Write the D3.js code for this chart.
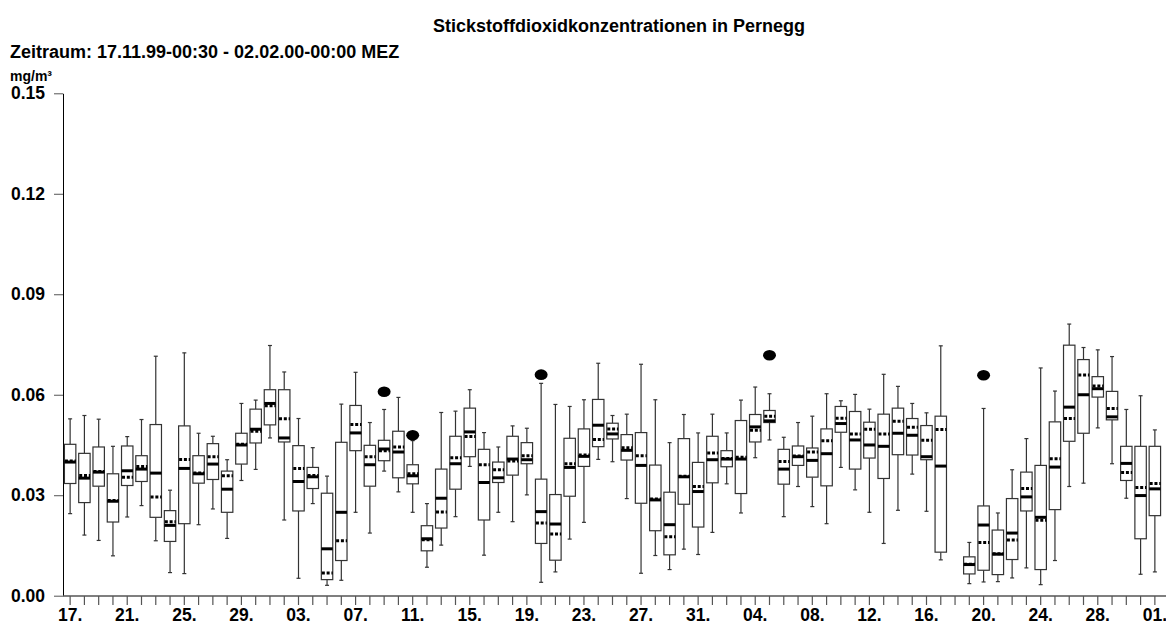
<!DOCTYPE html>
<html>
<head>
<meta charset="utf-8">
<script src="https://cdn.jsdelivr.net/npm/d3@7/dist/d3.min.js"></script>
<style>
  html, body { margin: 0; padding: 0; background: #fff; }
  svg { display: block; font-family: "Liberation Sans", Arial, Helvetica, sans-serif; font-weight: bold; }
</style>
</head>
<body>
<svg id="chart" width="1166" height="625"></svg>
<script>
// Daily NO2 statistics, Pernegg, 17.11.1999 – 01.02.2000 (mg/m³).
// One entry per day; null = no data for that day.
const firstDay = new Date(1999, 10, 17);
const endDay = new Date(2000, 1, 2);

const maxVals = [
  0.0528, 0.0538, 0.0527, 0.0446, 0.0475, 0.0526, 0.0715, 0.0315, 0.0725, 0.0485, 0.0476, 0.0406, 0.0574,
  0.0584, 0.0747, 0.0668, 0.0529, 0.0442, 0.0357, 0.0572, 0.0667, 0.0517, 0.0556, 0.0592, 0.0463,
  0.0275, 0.0547, 0.0551, 0.0615, 0.0487, 0.0444, 0.0507, 0.0500, 0.0634, 0.0571, 0.0565, 0.0585, 0.0694,
  0.0538, 0.0542, 0.0691, 0.0585, 0.0457, 0.0541, 0.0486,
  0.0542, 0.0486, 0.0584, 0.0623, 0.0603, 0.0473, 0.0517, 0.0536, 0.0603, 0.0582, 0.0601, 0.0557, 0.0661,
  0.0625, 0.0574, 0.0546, 0.0746, null, 0.0159, 0.0559, 0.0247, 0.0376, 0.0469, 0.0680, 0.0611, 0.0811,
  0.0741, 0.0734, 0.0714, 0.0556, 0.0597,
  0.0495
];
const q3Vals = [
  0.0452, 0.0425, 0.0444, 0.0364, 0.0447, 0.0418, 0.0511, 0.0254, 0.0507, 0.0418, 0.0454, 0.0372, 0.0485,
  0.0557, 0.0615, 0.0615, 0.0448, 0.0383, 0.0306, 0.0458, 0.0568, 0.0449, 0.0464, 0.0491, 0.0391,
  0.0209, 0.0378, 0.0476, 0.0560, 0.0437, 0.0399, 0.0476, 0.0457, 0.0348, 0.0302, 0.0470, 0.0498, 0.0586,
  0.0515, 0.0481, 0.0487, 0.0390, 0.0309, 0.0469, 0.0398,
  0.0476, 0.0433, 0.0523, 0.0541, 0.0553, 0.0437, 0.0447, 0.0441, 0.0498, 0.0565, 0.0550, 0.0518, 0.0542,
  0.0560, 0.0529, 0.0508, 0.0536, null, 0.0116, 0.0268, 0.0196, 0.0290, 0.0369, 0.0389, 0.0519, 0.0748,
  0.0705, 0.0654, 0.0610, 0.0446, 0.0446,
  0.0446
];
const medianVals = [
  0.0399, 0.0351, 0.0369, 0.0282, 0.0373, 0.0378, 0.0366, 0.0210, 0.0380, 0.0364, 0.0393, 0.0318, 0.0450,
  0.0497, 0.0574, 0.0471, 0.0341, 0.0355, 0.0140, 0.0249, 0.0486, 0.0391, 0.0438, 0.0429, 0.0358,
  0.0170, 0.0291, 0.0394, 0.0489, 0.0338, 0.0352, 0.0408, 0.0406, 0.0251, 0.0214, 0.0383, 0.0416, 0.0509,
  0.0483, 0.0434, 0.0389, 0.0286, 0.0212, 0.0355, 0.0311,
  0.0406, 0.0408, 0.0408, 0.0504, 0.0522, 0.0378, 0.0415, 0.0404, 0.0424, 0.0514, 0.0465, 0.0450, 0.0446,
  0.0485, 0.0479, 0.0415, 0.0387, null, 0.0093, 0.0211, 0.0124, 0.0187, 0.0295, 0.0234, 0.0384, 0.0563,
  0.0600, 0.0618, 0.0534, 0.0395, 0.0299,
  0.0319
];
const meanVals = [
  0.0402, 0.0359, 0.0371, 0.0284, 0.0354, 0.0386, 0.0295, 0.0221, 0.0407, 0.0366, 0.0415, 0.0358, 0.0452,
  0.0491, 0.0567, 0.0528, 0.0380, 0.0359, 0.0068, 0.0164, 0.0511, 0.0415, 0.0433, 0.0444, 0.0364,
  0.0167, 0.0250, 0.0412, 0.0475, 0.0391, 0.0376, 0.0402, 0.0418, 0.0217, 0.0184, 0.0394, 0.0420, 0.0466,
  0.0498, 0.0442, 0.0418, 0.0289, 0.0176, 0.0357, 0.0326,
  0.0426, 0.0410, 0.0413, 0.0494, 0.0536, 0.0401, 0.0417, 0.0429, 0.0463, 0.0530, 0.0483, 0.0497, 0.0483,
  0.0521, 0.0503, 0.0464, 0.0496, null, 0.0094, 0.0159, 0.0125, 0.0166, 0.0320, 0.0225, 0.0409, 0.0529,
  0.0659, 0.0626, 0.0559, 0.0368, 0.0323,
  0.0335
];
const q1Vals = [
  0.0335, 0.0278, 0.0327, 0.0220, 0.0329, 0.0341, 0.0234, 0.0162, 0.0215, 0.0336, 0.0347, 0.0249, 0.0393,
  0.0456, 0.0510, 0.0459, 0.0253, 0.0320, 0.0048, 0.0105, 0.0433, 0.0327, 0.0403, 0.0352, 0.0334,
  0.0134, 0.0202, 0.0318, 0.0415, 0.0226, 0.0338, 0.0360, 0.0394, 0.0156, 0.0106, 0.0297, 0.0386, 0.0445,
  0.0468, 0.0405, 0.0276, 0.0194, 0.0122, 0.0273, 0.0205,
  0.0337, 0.0385, 0.0305, 0.0459, 0.0517, 0.0333, 0.0389, 0.0354, 0.0328, 0.0488, 0.0378, 0.0411, 0.0350,
  0.0421, 0.0420, 0.0406, 0.0130, null, 0.0065, 0.0076, 0.0063, 0.0108, 0.0253, 0.0078, 0.0257, 0.0461,
  0.0485, 0.0593, 0.0525, 0.0344, 0.0170,
  0.0239
];
const minVals = [
  0.0245, 0.0181, 0.0165, 0.0119, 0.0235, 0.0269, 0.0164, 0.0069, 0.0066, 0.0212, 0.0259, 0.0171, 0.0344,
  0.0377, 0.0471, 0.0226, 0.0052, 0.0275, 0.0031, 0.0046, 0.0249, 0.0187, 0.0372, 0.0310, 0.0249,
  0.0085, 0.0151, 0.0236, 0.0386, 0.0121, 0.0249, 0.0221, 0.0301, 0.0040, 0.0071, 0.0169, 0.0219, 0.0407,
  0.0400, 0.0290, 0.0067, 0.0120, 0.0078, 0.0139, 0.0123,
  0.0189, 0.0334, 0.0247, 0.0412, 0.0465, 0.0236, 0.0326, 0.0266, 0.0215, 0.0383, 0.0316, 0.0249, 0.0156,
  0.0255, 0.0363, 0.0252, 0.0107, null, 0.0036, 0.0041, 0.0042, 0.0053, 0.0083, 0.0033, 0.0105, 0.0326,
  0.0336, 0.0501, 0.0394, 0.0291, 0.0064,
  0.0071
];
// Single extreme values drawn as filled dots (day index, value)
const outlierDays = [22, 24, 33, 49, 64];
const outlierVals = [0.0609, 0.0479, 0.0660, 0.0718, 0.0658];

const yTicks = [0, 0.03, 0.06, 0.09, 0.12, 0.15];
const xTickLabels = ["17.", "21.", "25.", "29.", "03.", "07.", "11.", "15.", "19.", "23.",
                     "27.", "31.", "04.", "08.", "12.", "16.", "20.", "24.", "28.", "01."];

const days = d3.timeDay.range(firstDay, endDay);
const dayIdx = days.map((d, i) => i);

const svg = d3.select("#chart");

const x = d3.scaleBand()
  .domain(dayIdx)
  .range([63, 1162])
  .paddingInner(0.2)
  .paddingOuter(0.1);
const y = d3.scaleLinear().domain([0, 0.15]).range([595.7, 93.3]);

const cx = i => x(i) + x.bandwidth() / 2;
const bw = x.bandwidth();

// Titles
svg.append("text").attr("x", 619).attr("y", 32).attr("text-anchor", "middle")
  .style("font-size", "18px").text("Stickstoffdioxidkonzentrationen in Pernegg");
svg.append("text").attr("x", 10).attr("y", 58)
  .style("font-size", "18px").text("Zeitraum: 17.11.99-00:30 - 02.02.00-00:00 MEZ");
svg.append("text").attr("x", 10).attr("y", 81)
  .style("font-size", "14px").text("mg/m³");

// Y axis
const yAxis = svg.append("g").attr("transform", "translate(63,0)")
  .call(d3.axisLeft(y).tickValues(yTicks).tickFormat(d3.format(".2f"))
    .tickSize(9).tickSizeOuter(0).tickPadding(9));
yAxis.select(".domain").attr("stroke", "#000");
yAxis.selectAll(".tick line").attr("stroke", "#555");
yAxis.selectAll("text").style("font-size", "17.5px").attr("fill", "#000")
  .style("font-family", "'Liberation Sans', Arial, sans-serif").style("font-weight", "bold");

// X axis: a tick per day, a label every fourth day
const labelOf = new Map(dayIdx.filter(i => i % 4 === 0).map((i, k) => [i, xTickLabels[k]]));
const xAxis = svg.append("g").attr("transform", "translate(0,596)")
  .call(d3.axisBottom(x).tickSize(9).tickSizeOuter(0).tickPadding(4)
    .tickFormat(i => labelOf.get(i) || ""));
xAxis.select(".domain").remove();
xAxis.append("line").attr("x1", 63).attr("x2", 1166).attr("y1", 0).attr("y2", 0)
  .attr("stroke", "#555").attr("stroke-width", 1.5);
xAxis.selectAll(".tick line").attr("stroke", "#555").attr("stroke-width", 1.2);
xAxis.selectAll("text").style("font-size", "17.5px").attr("fill", "#000")
  .style("font-family", "'Liberation Sans', Arial, sans-serif").style("font-weight", "bold");

// Box plots
const valid = dayIdx.filter(i => medianVals[i] !== null);
const g = svg.append("g");
const box = g.selectAll("g.box").data(valid).join("g").attr("class", "box");

// whiskers
box.append("line")
  .attr("x1", cx).attr("x2", cx)
  .attr("y1", i => y(maxVals[i])).attr("y2", i => y(q3Vals[i]))
  .attr("stroke", "#333").attr("stroke-width", 1.2);
box.append("line")
  .attr("x1", cx).attr("x2", cx)
  .attr("y1", i => y(q1Vals[i])).attr("y2", i => y(minVals[i]))
  .attr("stroke", "#333").attr("stroke-width", 1.2);
// whisker caps
box.append("line")
  .attr("x1", i => cx(i) - 2).attr("x2", i => cx(i) + 2)
  .attr("y1", i => y(maxVals[i])).attr("y2", i => y(maxVals[i]))
  .attr("stroke", "#333").attr("stroke-width", 1.2);
box.append("line")
  .attr("x1", i => cx(i) - 2).attr("x2", i => cx(i) + 2)
  .attr("y1", i => y(minVals[i])).attr("y2", i => y(minVals[i]))
  .attr("stroke", "#333").attr("stroke-width", 1.2);
// interquartile box
box.append("rect")
  .attr("x", i => x(i)).attr("width", bw)
  .attr("y", i => y(q3Vals[i])).attr("height", i => y(q1Vals[i]) - y(q3Vals[i]))
  .attr("fill", "#fff").attr("stroke", "#333").attr("stroke-width", 1.2);
// median (solid) and mean (dashed)
box.append("line")
  .attr("x1", i => x(i)).attr("x2", i => x(i) + bw)
  .attr("y1", i => y(medianVals[i])).attr("y2", i => y(medianVals[i]))
  .attr("stroke", "#000").attr("stroke-width", 3);
box.append("line")
  .attr("x1", i => x(i) + 0.5).attr("x2", i => x(i) + bw)
  .attr("y1", i => y(meanVals[i])).attr("y2", i => y(meanVals[i]))
  .attr("stroke", "#000").attr("stroke-width", 3).attr("stroke-dasharray", "3,1.8");

// outliers
g.selectAll("ellipse.out").data(outlierDays).join("ellipse").attr("class", "out")
  .attr("cx", cx).attr("cy", (d, k) => y(outlierVals[k]))
  .attr("rx", 6.5).attr("ry", 5.3).attr("fill", "#000");
</script>
</body>
</html>
